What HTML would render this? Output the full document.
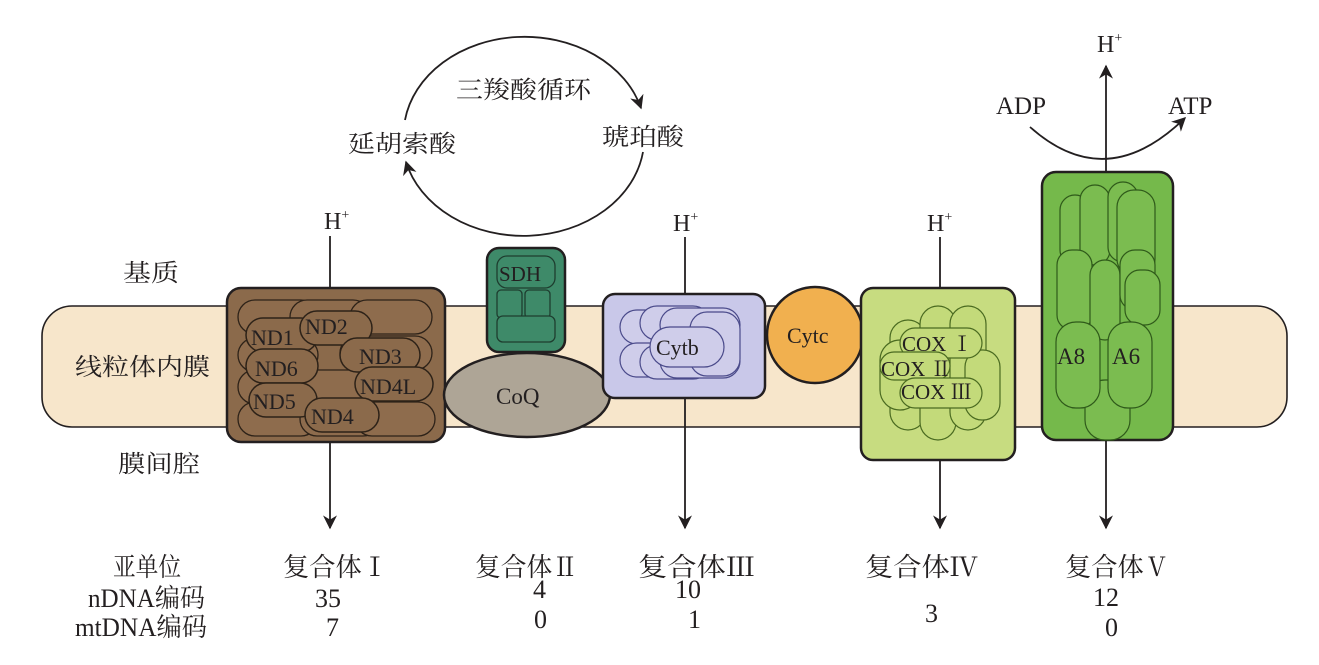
<!DOCTYPE html>
<html><head><meta charset="utf-8"><style>
html,body{margin:0;padding:0;background:#fff;}
svg text{font-family:"Liberation Serif","Noto Serif CJK SC",serif;fill:#231f20;}
</style></head><body>
<svg width="1319" height="660" viewBox="0 0 1319 660" xmlns="http://www.w3.org/2000/svg">
<defs>
<marker id="ah2" viewBox="0 0 10 10" refX="9" refY="5" markerWidth="14" markerHeight="14" orient="auto" markerUnits="userSpaceOnUse">
<path d="M0,0 L10,5 L0,10 L3,5 z" fill="#231f20"/></marker>
</defs>
<rect x="42" y="306" width="1245" height="121" rx="30" fill="#f7e6cb" stroke="#231f20" stroke-width="1.6"/>

<path d="M405,120 A121,98 0 0 1 641,108" fill="none" stroke="#231f20" stroke-width="1.8" marker-end="url(#ah2)"/>
<path d="M643,152 A121,98 0 0 1 406,162" fill="none" stroke="#231f20" stroke-width="1.8" marker-end="url(#ah2)"/>
<text x="456" y="98" font-size="24" textLength="135" lengthAdjust="spacingAndGlyphs">三羧酸循环</text>
<text x="348" y="152" font-size="24" textLength="108" lengthAdjust="spacingAndGlyphs">延胡索酸</text>
<text x="602" y="145" font-size="24" textLength="82" lengthAdjust="spacingAndGlyphs">琥珀酸</text>

<g stroke="#231f20" stroke-width="1.8" fill="none">
<line x1="330" y1="236" x2="330" y2="290"/>
<line x1="330" y1="442" x2="330" y2="528" marker-end="url(#ah2)"/>
<line x1="685" y1="237" x2="685" y2="295"/>
<line x1="685" y1="397" x2="685" y2="528" marker-end="url(#ah2)"/>
<line x1="940" y1="237" x2="940" y2="290"/>
<line x1="940" y1="459" x2="940" y2="528" marker-end="url(#ah2)"/>
<line x1="1106" y1="172" x2="1106" y2="66" marker-end="url(#ah2)"/>
<line x1="1106" y1="440" x2="1106" y2="528" marker-end="url(#ah2)"/>
<path d="M1030,127 Q1106,195 1185,118" marker-end="url(#ah2)"/>
</g>
<text x="324" y="229" font-size="24">H<tspan font-size="14" dy="-10">+</tspan></text>
<text x="673" y="231" font-size="24">H<tspan font-size="14" dy="-10">+</tspan></text>
<text x="927" y="231" font-size="24">H<tspan font-size="14" dy="-10">+</tspan></text>
<text x="1097" y="52" font-size="24">H<tspan font-size="14" dy="-10">+</tspan></text>
<text x="996" y="114" font-size="25">ADP</text>
<text x="1168" y="114" font-size="25">ATP</text>

<rect x="227" y="288" width="218" height="154" rx="14" fill="#8b6a4b" stroke="#231f20" stroke-width="2.5"/>
<g fill="#8e6c4d" stroke="#2d2218" stroke-width="1.3">
<rect x="238" y="300" width="80" height="34" rx="17"/><rect x="290" y="300" width="80" height="34" rx="17"/><rect x="350" y="300" width="82" height="34" rx="17"/>
<rect x="238" y="338" width="80" height="34" rx="17"/><rect x="340" y="336" width="92" height="34" rx="17"/>
<rect x="238" y="370" width="80" height="34" rx="17"/><rect x="300" y="370" width="80" height="34" rx="17"/>
<rect x="238" y="402" width="80" height="34" rx="17"/><rect x="300" y="402" width="80" height="34" rx="17"/><rect x="355" y="402" width="80" height="34" rx="17"/>
</g>
<g fill="#8b6a4b" stroke="#2d2218" stroke-width="1.5">
<rect x="246" y="318" width="72" height="34" rx="17"/><rect x="300" y="311" width="72" height="34" rx="17"/>
<rect x="246" y="349" width="72" height="34" rx="17"/><rect x="340" y="338" width="80" height="34" rx="17"/>
<rect x="355" y="367" width="78" height="34" rx="17"/>
<rect x="249" y="383" width="68" height="34" rx="17"/><rect x="305" y="398" width="74" height="34" rx="17"/>
</g>
<g font-size="22"><text x="251" y="345">ND1</text><text x="305" y="334">ND2</text><text x="255" y="376">ND6</text><text x="359" y="364">ND3</text><text x="360" y="394">ND4L</text><text x="253" y="409">ND5</text><text x="311" y="424">ND4</text></g>

<rect x="487" y="248" width="78" height="104" rx="12" fill="#3e8a69" stroke="#231f20" stroke-width="2.5"/>
<rect x="497" y="256" width="58" height="32" rx="10" fill="#3e8a69" stroke="#1e3d2f" stroke-width="1.3"/>
<rect x="497" y="290" width="25" height="28" rx="4" fill="#3e8a69" stroke="#1e3d2f" stroke-width="1.3"/>
<rect x="525" y="290" width="25" height="28" rx="4" fill="#3e8a69" stroke="#1e3d2f" stroke-width="1.3"/>
<rect x="497" y="316" width="58" height="26" rx="6" fill="#3e8a69" stroke="#1e3d2f" stroke-width="1.3"/>
<text x="499" y="281" font-size="21">SDH</text>
<ellipse cx="527" cy="395" rx="83" ry="42" fill="#aea596" stroke="#231f20" stroke-width="2.5"/>
<text x="496" y="404" font-size="23">CoQ</text>

<rect x="603" y="294" width="162" height="104" rx="12" fill="#c9c8e9" stroke="#231f20" stroke-width="2.5"/>
<g fill="#cfcdea" stroke="#4a4a8a" stroke-width="1.2">
<rect x="620" y="310" width="60" height="34" rx="17"/><rect x="620" y="343" width="60" height="34" rx="17"/>
<rect x="640" y="306" width="70" height="34" rx="17"/><rect x="640" y="345" width="70" height="34" rx="17"/>
<rect x="660" y="308" width="80" height="34" rx="17"/><rect x="660" y="344" width="80" height="34" rx="17"/>
<rect x="690" y="312" width="50" height="64" rx="17"/>
<rect x="650" y="327" width="74" height="40" rx="20"/>
</g>
<text x="656" y="355" font-size="22">Cytb</text>

<circle cx="815" cy="335" r="48" fill="#f1b04f" stroke="#231f20" stroke-width="2.5"/>
<text x="787" y="343" font-size="22">Cytc</text>

<rect x="861" y="288" width="154" height="172" rx="12" fill="#c7dc80" stroke="#231f20" stroke-width="2.5"/>
<g fill="#c3da7a" stroke="#4a6a20" stroke-width="1.2">
<rect x="890" y="320" width="36" height="110" rx="18"/><rect x="920" y="306" width="36" height="134" rx="18"/><rect x="950" y="306" width="36" height="124" rx="18"/>
<rect x="880" y="340" width="40" height="70" rx="20"/><rect x="965" y="350" width="35" height="70" rx="17"/>
<rect x="900" y="328" width="82" height="30" rx="15"/><rect x="880" y="352" width="70" height="28" rx="14"/><rect x="900" y="378" width="82" height="30" rx="15"/>
</g>
<g font-size="21"><text x="902" y="351">COX Ⅰ</text><text x="881" y="376">COX Ⅱ</text><text x="901" y="399">COX Ⅲ</text></g>

<rect x="1042" y="172" width="131" height="268" rx="14" fill="#75b94b" stroke="#231f20" stroke-width="2.5"/>
<g fill="#7bbc50" stroke="#2f5a1a" stroke-width="1.2">
<rect x="1060" y="195" width="30" height="70" rx="15"/><rect x="1080" y="185" width="30" height="80" rx="15"/><rect x="1108" y="182" width="30" height="80" rx="15"/><rect x="1117" y="190" width="38" height="86" rx="17"/>
<rect x="1057" y="250" width="35" height="80" rx="15"/><rect x="1090" y="260" width="30" height="80" rx="15"/><rect x="1120" y="250" width="35" height="60" rx="15"/><rect x="1125" y="270" width="35" height="55" rx="15"/>
<rect x="1085" y="380" width="45" height="60" rx="20"/>
<rect x="1056" y="322" width="44" height="86" rx="20"/><rect x="1108" y="322" width="44" height="86" rx="20"/>
</g>
<text x="1057" y="364" font-size="23">A8</text><text x="1112" y="364" font-size="23">A6</text>

<g font-size="24">
<text x="123" y="281" textLength="56" lengthAdjust="spacingAndGlyphs">基质</text>
<text x="75" y="375" textLength="135" lengthAdjust="spacingAndGlyphs">线粒体内膜</text>
<text x="118" y="472" textLength="82" lengthAdjust="spacingAndGlyphs">膜间腔</text>
</g>
<g font-size="26">
<text x="113" y="576" textLength="68" lengthAdjust="spacingAndGlyphs">亚单位</text>
<text x="88" y="607" textLength="117" lengthAdjust="spacingAndGlyphs">nDNA编码</text>
<text x="75" y="636" textLength="132" lengthAdjust="spacingAndGlyphs">mtDNA编码</text>
<text x="283" y="576" textLength="105" lengthAdjust="spacingAndGlyphs">复合体Ⅰ</text>
<text x="475" y="576" textLength="103" lengthAdjust="spacingAndGlyphs">复合体Ⅱ</text>
<text x="638" y="576" textLength="117" lengthAdjust="spacingAndGlyphs">复合体Ⅲ</text>
<text x="865" y="576" textLength="113" lengthAdjust="spacingAndGlyphs">复合体Ⅳ</text>
<text x="1065" y="576" textLength="105" lengthAdjust="spacingAndGlyphs">复合体Ⅴ</text>
<text x="315" y="607">35</text><text x="533" y="598">4</text><text x="675" y="598">10</text><text x="1093" y="606">12</text>
<text x="326" y="636">7</text><text x="534" y="628">0</text><text x="688" y="628">1</text><text x="925" y="622">3</text><text x="1105" y="636">0</text>
</g>
</svg>
</body></html>
